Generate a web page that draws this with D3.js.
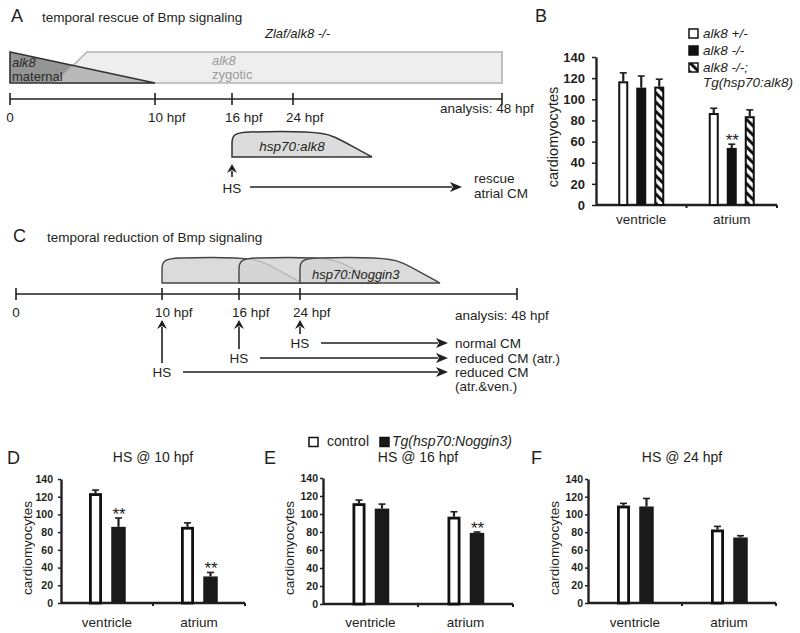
<!DOCTYPE html>
<html><head><meta charset="utf-8">
<script src="https://cdn.jsdelivr.net/npm/d3@7/dist/d3.min.js"></script>
<style>
body{margin:0;background:#fff}
svg{display:block}
text{font-family:"Liberation Sans",Arial,Helvetica,sans-serif;fill:#231f20}
</style>
</head><body>
<svg id="fig" width="800" height="633"></svg>
<script>
// ---------------- DATA ----------------
const timeTicks = [0, 10, 16, 24, 48];
const timeTickLabels = ["0", "10 hpf", "16 hpf", "24 hpf", "analysis: 48 hpf"];
const rescueHS = 16;                      // hpf, panel A heat shock
const reductionHS = [10, 16, 24];         // hpf, panel C heat shocks
const reductionOutcome = [["reduced CM", "(atr.&ven.)"], ["reduced CM (atr.)"], ["normal CM"]];

const categories = ["ventricle", "atrium"];
const yTicks = [0, 20, 40, 60, 80, 100, 120, 140];

// Panel B
const seriesB = [["alk8 +/-"], ["alk8 -/-"], ["alk8 -/-;", "Tg(hsp70:alk8)"]];
const bHet = [117, 87],  bHetErr = [8, 4.5];
const bMut = [111, 54],  bMutErr = [11, 3.5];
const bRes = [112, 84],  bResErr = [7, 6];
const bSig = [["", ""], ["", "**"], ["", ""]];

// Panels D, E, F
const seriesDEF = ["control", "Tg(hsp70:Noggin3)"];
const dTitle = "HS @ 10 hpf";
const dCtrl = [124, 86], dCtrlErr = [3.5, 4.5];
const dTg   = [86, 30],  dTgErr   = [10, 4.5];
const dSig  = [["", ""], ["**", "**"]];
const eTitle = "HS @ 16 hpf";
const eCtrl = [112, 97], eCtrlErr = [3.5, 5.5];
const eTg   = [106, 79], eTgErr   = [5, 1];
const eSig  = [["", ""], ["", "**"]];
const fTitle = "HS @ 24 hpf";
const fCtrl = [110, 83], fCtrlErr = [2.5, 3.5];
const fTg   = [109, 74], fTgErr   = [9, 2];
const fSig  = [["", ""], ["", ""]];

// ---------------- DRAW ----------------
const svg = d3.select("#fig");
const ink = "#231f20";

const defs = svg.append("defs");
const pat = defs.append("pattern").attr("id", "hatch").attr("patternUnits", "userSpaceOnUse")
  .attr("width", 6.5).attr("height", 6.5).attr("patternTransform", "rotate(-45)");
pat.append("rect").attr("width", 6.5).attr("height", 6.5).attr("fill", "#fff");
pat.append("rect").attr("x", 0).attr("width", 3).attr("height", 6.5).attr("fill", "#111");

function txt(g, x, y, s, o = {}) {
  const t = g.append("text").attr("x", x).attr("y", y).text(s)
    .attr("font-size", o.size || 13.5)
    .attr("text-anchor", o.anchor || "start");
  if (o.italic) t.attr("font-style", "italic");
  if (o.bold) t.attr("font-weight", "bold");
  if (o.fill) t.style("fill", o.fill);
  return t;
}
function arrow(g, x1, y1, x2, y2, head = 12, half = 5) {
  const a = Math.atan2(y2 - y1, x2 - x1);
  const bx = x2 - head * Math.cos(a), by = y2 - head * Math.sin(a);
  g.append("line").attr("x1", x1).attr("y1", y1).attr("x2", bx + 2 * Math.cos(a)).attr("y2", by + 2 * Math.sin(a))
    .attr("stroke", ink).attr("stroke-width", 1.6);
  const nx = -Math.sin(a), ny = Math.cos(a);
  const nb = 3;
  g.append("path").attr("d",
    `M${x2},${y2}L${bx + nx * half},${by + ny * half}L${bx + nb * Math.cos(a)},${by + nb * Math.sin(a)}L${bx - nx * half},${by - ny * half}Z`)
    .attr("fill", ink);
}
function pulse(x0, x1, yt, yb) {
  const p = d3.path();
  p.moveTo(x0, yb);
  p.lineTo(x0, yt + 11);
  p.bezierCurveTo(x0, yt + 3, x0 + 3, yt + 0.5, x0 + 18, yt);
  p.quadraticCurveTo((x0 + x1) / 2, yt - 1.5, x1 - 50, yt + 1.5);
  p.bezierCurveTo(x1 - 38, yt + 3, x1 - 30, yt + 9, x1, yb);
  p.closePath();
  return p.toString();
}
function timeline(g, xs, y, labelBase, analysisBase) {
  g.append("line").attr("x1", xs(timeTicks[0])).attr("x2", xs(timeTicks[timeTicks.length - 1]))
    .attr("y1", y).attr("y2", y).attr("stroke", ink).attr("stroke-width", 1.6);
  g.selectAll(null).data(timeTicks).join("line")
    .attr("x1", d => xs(d)).attr("x2", d => xs(d)).attr("y1", y - 6).attr("y2", y + 6)
    .attr("stroke", ink).attr("stroke-width", 1.6);
  timeTicks.forEach((d, i) => {
    const lab = timeTickLabels[i];
    if (i === 0) txt(g, xs(d), labelBase, lab, { anchor: "middle" });
    else if (i === timeTicks.length - 1) txt(g, xs(d) - 62, analysisBase, lab);
    else txt(g, xs(d) - 7, labelBase, lab);
  });
}

// ===== Panel A =====
const gA = svg.append("g");
txt(gA, 11, 22, "A", { size: 18 });
txt(gA, 42, 22, "temporal rescue of Bmp signaling");
txt(gA, 265, 38, "Zlaf/alk8 -/-", { italic: true, size: 13 });
const xA = d3.scaleLinear().domain(timeTicks).range([10, 155, 232, 293, 502]);
const bandTop = 52, bandBot = 83;
// maternal triangle
const matPts = [[xA(0), bandTop], [xA(0), bandBot], [xA(10), bandBot]];
gA.append("path").attr("d", d3.line()(matPts) + "Z").attr("fill", "#959595");
// zygotic band (translucent overlay)
const zygPts = [[xA(0) + 45, bandBot], [xA(0) + 77, bandTop], [xA(48), bandTop], [xA(48), bandBot]];
gA.append("path").attr("d", d3.line()(zygPts) + "Z").attr("fill", "#dedede").attr("fill-opacity", 0.5)
  .attr("stroke", "#b3b3b3").attr("stroke-width", 1.6);
gA.append("path").attr("d", d3.line()(matPts) + "Z").attr("fill", "none").attr("stroke", "#333").attr("stroke-width", 1.6);
txt(gA, 12, 67, "alk8", { italic: true, size: 13, fill: "#2a2a2a" });
txt(gA, 12, 81, "maternal", { size: 13, fill: "#2a2a2a" });
txt(gA, 212, 65, "alk8", { italic: true, size: 13, fill: "#9a9a9a" });
txt(gA, 212, 79, "zygotic", { size: 13, fill: "#9a9a9a" });
timeline(gA, xA, 99, 122, 113);
// hsp70:alk8 pulse
gA.append("path").attr("d", pulse(xA(rescueHS), xA(rescueHS) + 140, 132, 157))
  .attr("fill", "#dcdcdc").attr("stroke", "#333").attr("stroke-width", 1.5);
txt(gA, xA(rescueHS) + 60, 151, "hsp70:alk8", { italic: true, anchor: "middle", size: 13.5 });
arrow(gA, xA(rescueHS), 177, xA(rescueHS), 164, 9, 5);
txt(gA, xA(rescueHS), 193, "HS", { anchor: "middle" });
arrow(gA, xA(rescueHS) + 18, 187, 462, 187);
txt(gA, 474, 183, "rescue");
txt(gA, 474, 198, "atrial CM");

// ===== Panel C =====
const gC = svg.append("g");
txt(gC, 13, 242, "C", { size: 18 });
txt(gC, 47, 242, "temporal reduction of Bmp signaling");
const xC = d3.scaleLinear().domain(timeTicks).range([16, 162, 239, 300, 517]);
reductionHS.forEach(h => {
  gC.append("path").attr("d", pulse(xC(h), xC(h) + 140, 258, 283))
    .attr("fill", "#d3d3d3").attr("fill-opacity", 0.82).attr("stroke", "#444").attr("stroke-width", 1.4);
});
txt(gC, xC(24) + 12, 279, "hsp70:Noggin3", { italic: true, size: 13 });
timeline(gC, xC, 294, 317, 320);
const hsY = [377, 363, 348];
reductionHS.forEach((h, i) => {
  const cy = hsY[i] - 5;
  arrow(gC, xC(h), cy - 9, xC(h), 320, 9, 5);
  txt(gC, xC(h), hsY[i], "HS", { anchor: "middle" });
  arrow(gC, xC(h) + 21, cy, 448, cy);
  const lines = reductionOutcome[i];
  lines.forEach((l, k) => txt(gC, 455, hsY[i] + k * 14, l));
});

// ===== bar chart helper =====
function barChart(o) {
  const g = svg.append("g");
  const x0 = d3.scaleBand().domain(categories).range(o.xr);
  const x1 = d3.scaleBand().domain(o.styles.map((d, i) => i))
    .range([x0.bandwidth() / 2 - o.group / 2, x0.bandwidth() / 2 + o.group / 2]);
  const y = d3.scaleLinear().domain([0, 140]).range(o.yr);
  // y axis
  const ya = g.append("g").attr("transform", `translate(${o.xr[0]},0)`)
    .call(d3.axisLeft(y).tickValues(yTicks).tickSize(o.tick).tickSizeOuter(0).tickPadding(o.pad));
  ya.select(".domain").attr("stroke", ink).attr("stroke-width", 2.4);
  ya.selectAll(".tick line").attr("stroke", ink).attr("stroke-width", 1.5);
  ya.selectAll(".tick text").attr("font-family", '"Liberation Sans",Arial,sans-serif')
    .attr("font-weight", "bold").attr("font-size", o.tickSize).style("fill", ink);
  // x axis
  const y0 = y(0);
  g.append("line").attr("x1", o.xr[0]).attr("x2", o.xr[1]).attr("y1", y0).attr("y2", y0)
    .attr("stroke", ink).attr("stroke-width", 2.4);
  const bounds = [x0(categories[1]), o.xr[1]];
  g.selectAll(null).data(bounds).join("line")
    .attr("x1", d => d).attr("x2", d => d).attr("y1", y0).attr("y2", y0 + 3)
    .attr("stroke", ink).attr("stroke-width", 2);
  categories.forEach(c => txt(g, x0(c) + x0.bandwidth() / 2, o.catY, c, { anchor: "middle", size: 13.5 }));
  // y label
  g.append("text").attr("transform", `translate(${o.ylabX},${o.ylabY}) rotate(-90)`)
    .attr("text-anchor", "middle").attr("font-size", o.ylabSize).text("cardiomyocytes");
  // bars
  o.styles.forEach((s, i) => {
    categories.forEach((c, j) => {
      const v = o.values[i][j], e = o.errs[i][j];
      const cx = x0(c) + x1(i) + x1.bandwidth() / 2;
      const sw = s.sw || 0;
      // error bar
      g.append("line").attr("x1", cx).attr("x2", cx).attr("y1", y(v)).attr("y2", y(v + e))
        .attr("stroke", ink).attr("stroke-width", 2.2);
      g.append("line").attr("x1", cx - 3.5).attr("x2", cx + 3.5).attr("y1", y(v + e)).attr("y2", y(v + e))
        .attr("stroke", ink).attr("stroke-width", 1.6);
      g.append("rect")
        .attr("x", cx - (s.w - sw) / 2).attr("width", s.w - sw)
        .attr("y", y(v) + sw / 2).attr("height", y0 - y(v) - sw / 2)
        .attr("fill", s.fill).attr("stroke", s.stroke || "none").attr("stroke-width", sw);
      const sig = o.sig[i][j];
      if (sig) txt(g, cx + 0.5, y(v + e) + 2, sig, { anchor: "middle", size: 17 });
    });
  });
  return g;
}

// ===== Panel B =====
const stylesB = [
  { fill: "#fff", stroke: "#111", sw: 2, w: 10 },
  { fill: "#111", w: 10 },
  { fill: "url(#hatch)", stroke: "#111", sw: 2, w: 10 }
];
barChart({
  xr: [596, 777], yr: [205, 57], group: 54, styles: stylesB,
  values: [bHet, bMut, bRes], errs: [bHetErr, bMutErr, bResErr], sig: bSig,
  tick: 4, pad: 7, tickSize: 13, catY: 224, ylabX: 558, ylabY: 137, ylabSize: 14.5
});
txt(svg, 535, 22, "B", { size: 18 });
const legB = svg.append("g");
const legBy = [29, 46, 63];
seriesB.forEach((lab, i) => {
  legB.append("rect").attr("x", 689).attr("y", legBy[i]).attr("width", 9).attr("height", 9)
    .attr("fill", stylesB[i].fill).attr("stroke", "#111").attr("stroke-width", 1.5);
  lab.forEach((l, k) => txt(legB, 703, legBy[i] + 9 + k * 15, l, { italic: true, size: 13.5 }));
});

// ===== Panels D, E, F =====
const stylesDEF = [
  { fill: "#fff", stroke: "#111", sw: 2.8, w: 13 },
  { fill: "#1a1a1a", w: 14.5 }
];
const panels = [
  { L: "D", lx: 7, title: dTitle, vals: [dCtrl, dTg], errs: [dCtrlErr, dTgErr], sig: dSig,
    xr: [61, 245], yr: [603, 479], pad: 5, ylabX: 32 },
  { L: "E", lx: 264, title: eTitle, vals: [eCtrl, eTg], errs: [eCtrlErr, eTgErr], sig: eSig,
    xr: [323, 513], yr: [604, 478], pad: 2, ylabX: 294 },
  { L: "F", lx: 531, title: fTitle, vals: [fCtrl, fTg], errs: [fCtrlErr, fTgErr], sig: fSig,
    xr: [588, 776], yr: [603, 479], pad: 2, ylabX: 559 }
];
panels.forEach(p => {
  barChart({
    xr: p.xr, yr: p.yr, group: 46, styles: stylesDEF,
    values: p.vals, errs: p.errs, sig: p.sig,
    tick: 3, pad: p.pad, tickSize: 10.5, catY: 627, ylabX: p.ylabX, ylabY: 548, ylabSize: 13.5
  });
  txt(svg, p.lx, 464, p.L, { size: 18 });
  txt(svg, (p.xr[0] + p.xr[1]) / 2 + 0, 462, p.title, { anchor: "middle", size: 14 });
});
// shared legend (E)
const legE = svg.append("g");
const legEx = [309, 380];
seriesDEF.forEach((lab, i) => {
  legE.append("rect").attr("x", legEx[i]).attr("y", 437.5).attr("width", 9).attr("height", 9)
    .attr("fill", stylesDEF[i].fill).attr("stroke", "#111").attr("stroke-width", 1.5);
  txt(legE, legEx[i] + (i === 0 ? 18 : 12), 446, lab, { italic: i === 1, size: 14 });
});
</script>
</body></html>
